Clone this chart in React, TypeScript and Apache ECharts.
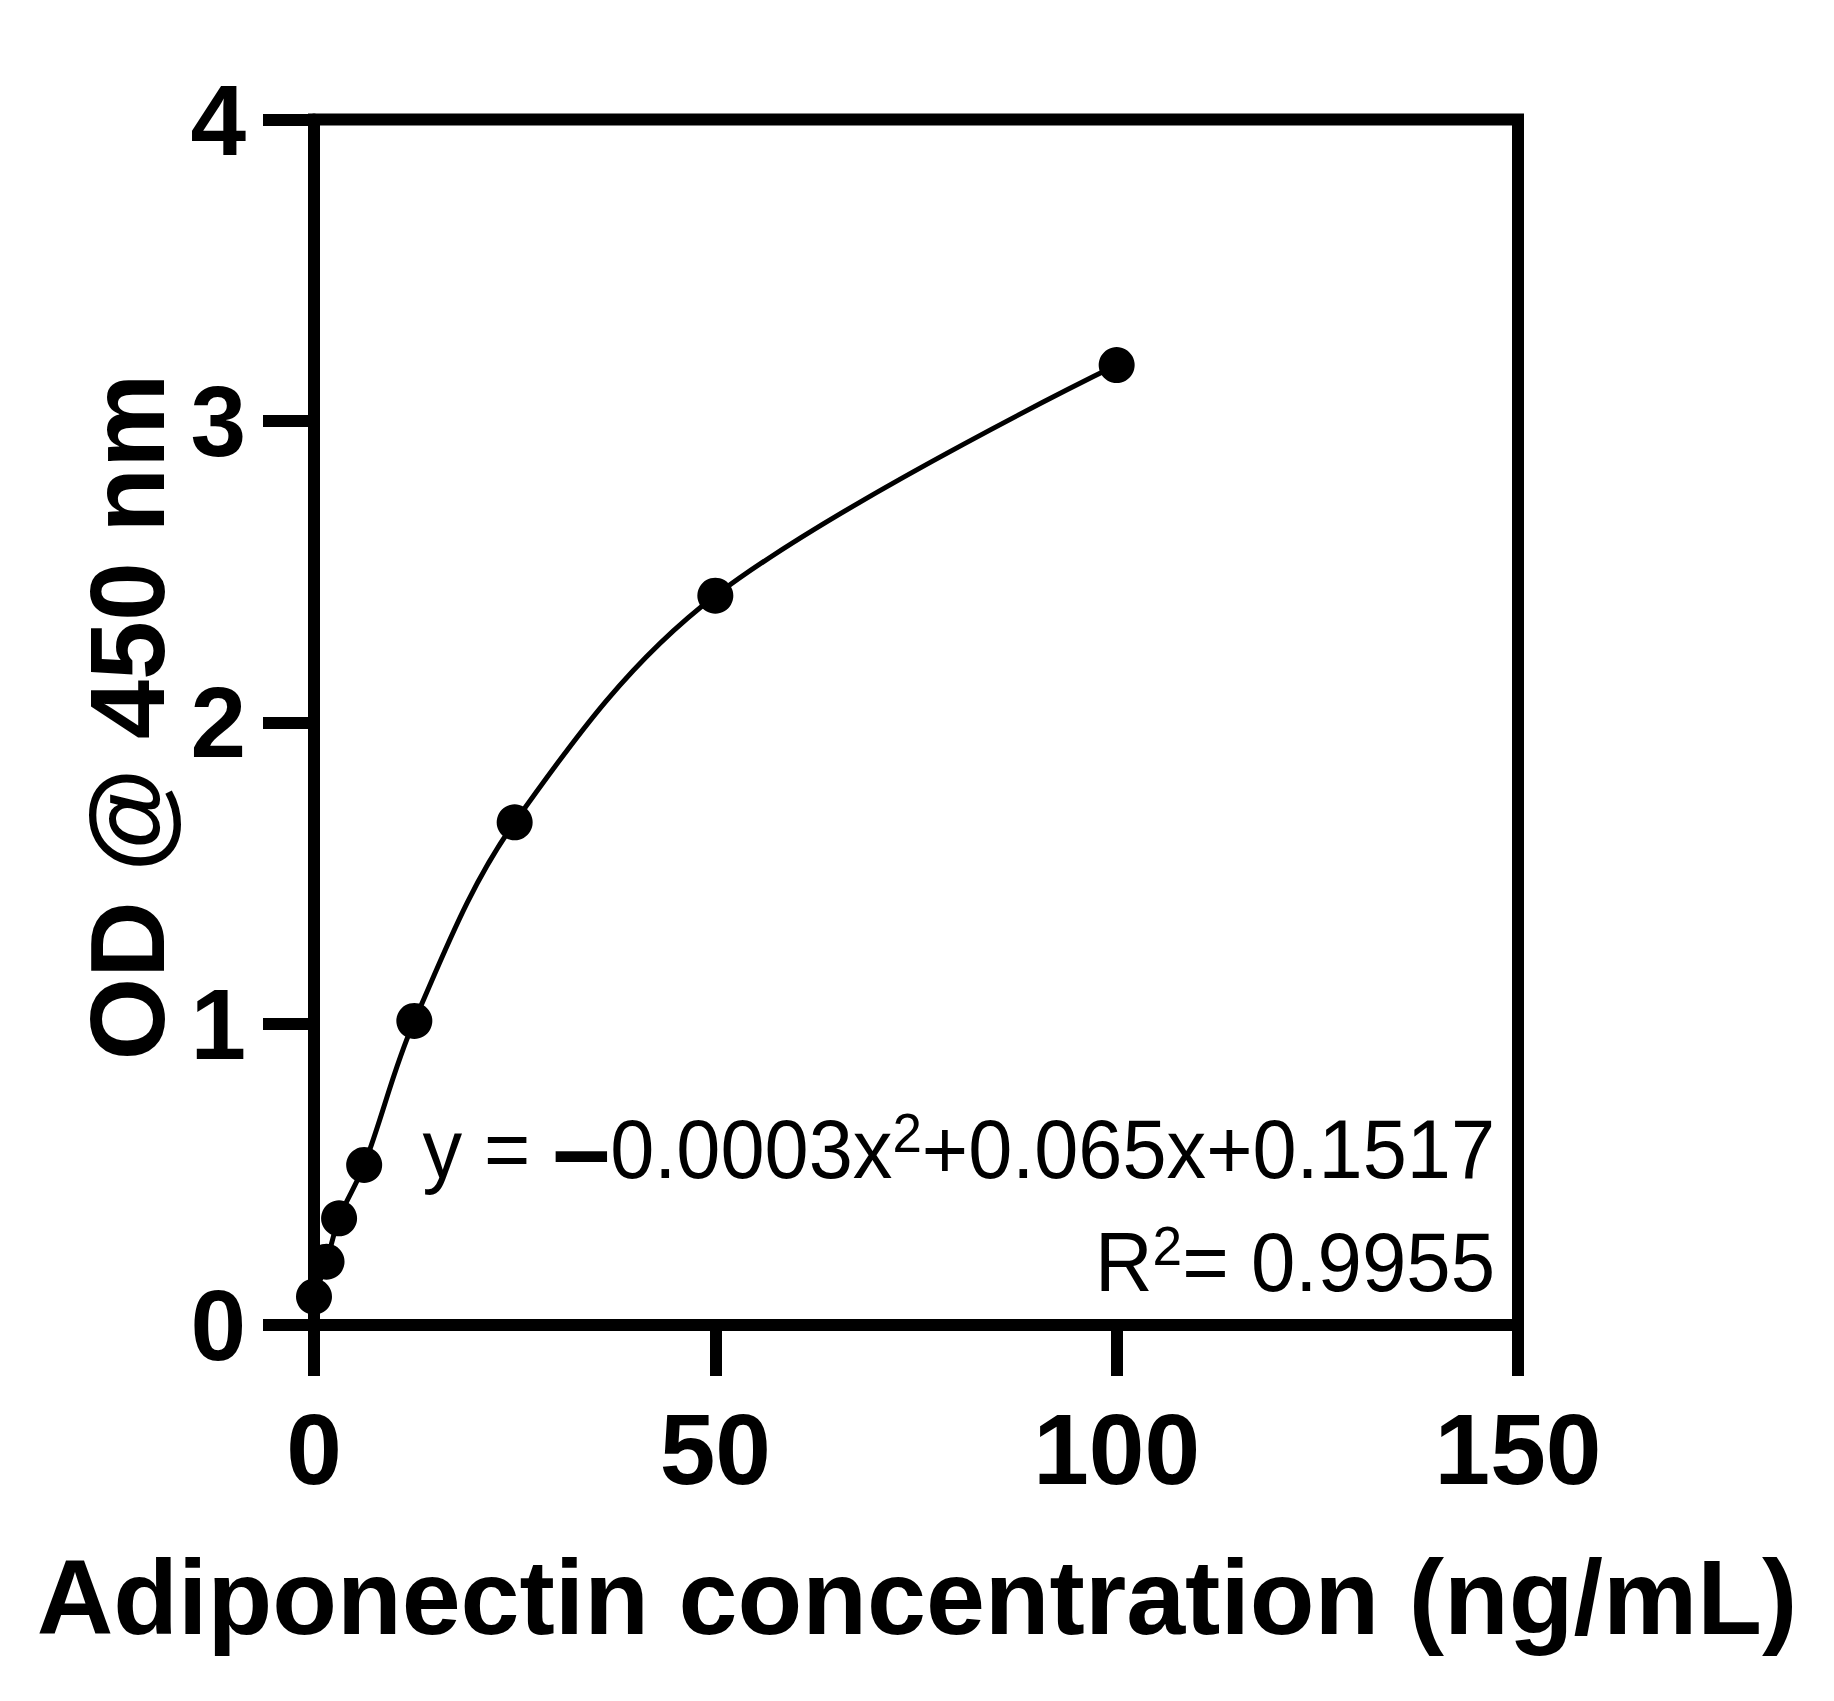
import React, { useEffect, useRef } from "react";
import * as echarts from "echarts";

const concentrations = [0, 1.5625, 3.125, 6.25, 12.5, 25, 50, 100];
const odValues = [0.094, 0.21, 0.354, 0.531, 1.009, 1.668, 2.42, 3.185];
const xTitle = "Adiponectin concentration (ng/mL)";
const yTitle = "OD @ 450 nm";
const equationParts = ["y = ", "–", "0.0003x", "2", "+0.065x+0.1517"];
const r2Parts = ["R", "2", "= 0.9955"];

const FONT = "'Liberation Sans', Arial, Helvetica, sans-serif";

export default function App() {
  const ref = useRef<HTMLDivElement>(null);
  useEffect(() => {
    if (!ref.current) return;
    const chart = echarts.init(ref.current, undefined, { renderer: "svg" });
    const data = concentrations.map((x, i) => [x, odValues[i]]);
    const richMain = { fontFamily: FONT, fontSize: 84, lineHeight: 86, color: "#000", verticalAlign: "bottom" };
    const richSup = { fontFamily: FONT, fontSize: 56, lineHeight: 56, color: "#000", verticalAlign: "top" };
    const richNeg = { fontFamily: FONT, fontSize: 110, fontWeight: "bold", lineHeight: 80, color: "#000", verticalAlign: "middle" };
    chart.setOption({
      animation: false,
      backgroundColor: "#fff",
      grid: {
        left: 314,
        top: 119.5,
        width: 1204,
        height: 1205.5,
        show: true,
        borderColor: "#000",
        borderWidth: 12,
        containLabel: false,
      },
      xAxis: {
        type: "value",
        min: 0,
        max: 150,
        interval: 50,
        splitLine: { show: false },
        axisLine: { show: true, onZero: false, lineStyle: { color: "#000", width: 12 } },
        axisTick: { show: true, length: 51, lineStyle: { color: "#000", width: 12 } },
        axisLabel: { margin: 74, color: "#000", fontSize: 100, fontWeight: "bold", fontFamily: FONT },
      },
      yAxis: {
        type: "value",
        min: 0,
        max: 4,
        interval: 1,
        splitLine: { show: false },
        axisLine: { show: true, onZero: false, lineStyle: { color: "#000", width: 12 } },
        axisTick: { show: true, length: 51, lineStyle: { color: "#000", width: 12 } },
        axisLabel: { margin: 68, color: "#000", fontSize: 100, fontWeight: "bold", fontFamily: FONT },
      },
      series: [
        {
          type: "line",
          data,
          smooth: 0.35,
          clip: false,
          symbol: "circle",
          symbolSize: 36,
          itemStyle: { color: "#000" },
          lineStyle: { color: "#000", width: 5 },
          z: 5,
        },
      ],
      graphic: [
        {
          type: "text",
          x: 917,
          y: 1597,
          style: {
            text: xTitle,
            align: "center",
            verticalAlign: "middle",
            fontFamily: FONT,
            fontSize: 106,
            fontWeight: "bold",
            fill: "#000",
          },
        },
        {
          type: "text",
          x: 127,
          y: 717,
          rotation: Math.PI / 2,
          style: {
            text: yTitle,
            align: "center",
            verticalAlign: "middle",
            fontFamily: FONT,
            fontSize: 106,
            fontWeight: "bold",
            fill: "#000",
          },
        },
        {
          type: "text",
          x: 1495,
          y: 1148,
          scaleX: 0.944,
          style: {
            text: `{m|${equationParts[0]}}{n|${equationParts[1]}}{m|${equationParts[2]}}{s|${equationParts[3]}}{m|${equationParts[4]}}`,
            rich: { m: richMain, s: richSup, n: richNeg },
            align: "right",
            verticalAlign: "middle",
            fill: "#000",
          },
          z: 10,
        },
        {
          type: "text",
          x: 1495,
          y: 1261,
          scaleX: 0.95,
          style: {
            text: `{m|${r2Parts[0]}}{s|${r2Parts[1]}}{m|${r2Parts[2]}}`,
            rich: { m: richMain, s: richSup },
            align: "right",
            verticalAlign: "middle",
            fill: "#000",
          },
          z: 10,
        },
      ],
    });
    return () => chart.dispose();
  }, []);
  return (
    <div
      ref={ref}
      style={{ position: "fixed", left: 0, top: 0, width: 1834, height: 1701, background: "#fff" }}
    />
  );
}
